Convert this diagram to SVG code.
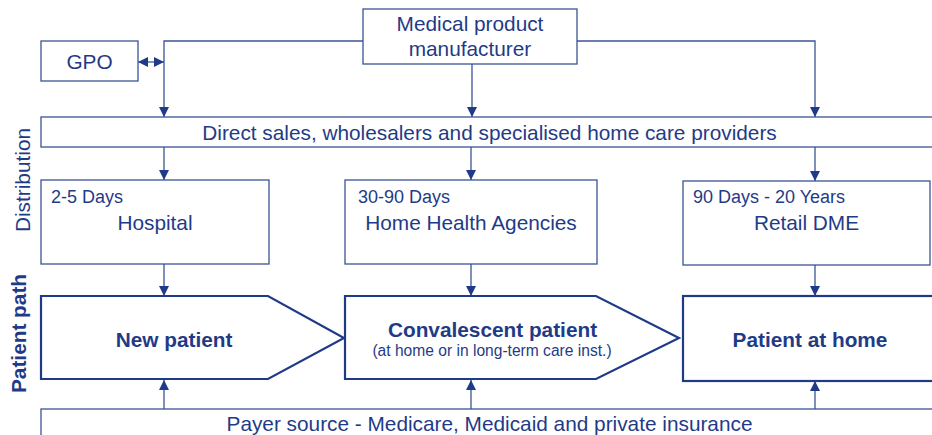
<svg xmlns="http://www.w3.org/2000/svg" width="932" height="435" viewBox="0 0 932 435">
<style>
text{font-family:"Liberation Sans",Arial,sans-serif;fill:#1f3b87}
.t{font-size:20.8px}
.s{font-size:18px}
.n{font-size:15.6px}
.b{font-size:20.8px;font-weight:bold}
.box{fill:#fff;stroke:#3a5596;stroke-width:1.3}
.pbox{fill:#fff;stroke:#1f3b87;stroke-width:2.2}
.c{fill:none;stroke:#3a5596;stroke-width:1.3}
</style>
<defs>
<marker id="ah" markerUnits="userSpaceOnUse" markerWidth="10" markerHeight="10" refX="10" refY="5" orient="auto-start-reverse" viewBox="0 0 10 10">
<path d="M0,0 L10,5 L0,10 z" fill="#1f3b87"/>
</marker>
</defs>
<rect width="932" height="435" fill="#fff"/>

<g id="labels">
<text class="t" transform="translate(30,180) rotate(-90)" text-anchor="middle">Distribution</text>
<text class="b" transform="translate(26,333.5) rotate(-90)" text-anchor="middle">Patient path</text>
</g>

<g id="connectors">
<polyline class="c" points="363,41 164,41 164,117" marker-end="url(#ah)"/>
<polyline class="c" points="577,41 815,41 815,117" marker-end="url(#ah)"/>
<line class="c" x1="472" y1="64" x2="472" y2="117" marker-end="url(#ah)"/>
<line class="c" x1="138" y1="62" x2="164" y2="62" marker-start="url(#ah)" marker-end="url(#ah)"/>
<line class="c" x1="164" y1="147" x2="164" y2="180" marker-end="url(#ah)"/>
<line class="c" x1="471" y1="147" x2="471" y2="180" marker-end="url(#ah)"/>
<line class="c" x1="815" y1="147" x2="815" y2="181" marker-end="url(#ah)"/>
<line class="c" x1="164" y1="264" x2="164" y2="296" marker-end="url(#ah)"/>
<line class="c" x1="471" y1="264" x2="471" y2="296" marker-end="url(#ah)"/>
<line class="c" x1="815" y1="265" x2="815" y2="296" marker-end="url(#ah)"/>
<line class="c" x1="164" y1="409" x2="164" y2="380" marker-end="url(#ah)"/>
<line class="c" x1="471" y1="409" x2="471" y2="380" marker-end="url(#ah)"/>
<line class="c" x1="815" y1="409" x2="815" y2="381" marker-end="url(#ah)"/>
</g>

<g id="gpo">
<rect class="box" x="41" y="41" width="97" height="40"/>
<text class="t" x="89.5" y="69" text-anchor="middle">GPO</text>
</g>

<g id="manufacturer">
<rect class="box" x="363" y="9" width="214" height="55"/>
<text class="t" x="470" y="31" text-anchor="middle">Medical product</text>
<text class="t" x="470" y="56" text-anchor="middle">manufacturer</text>
</g>

<g id="distribution">
<rect class="box" x="41" y="117" width="897" height="30"/>
<text class="t" x="489.5" y="140" text-anchor="middle">Direct sales, wholesalers and specialised home care providers</text>
</g>

<g id="hospital">
<rect class="box" x="41" y="180" width="228" height="84"/>
<text class="s" x="51" y="203">2-5 Days</text>
<text class="t" x="155" y="230" text-anchor="middle">Hospital</text>
</g>

<g id="home-health">
<rect class="box" x="345" y="180" width="252" height="84"/>
<text class="s" x="358" y="203">30-90 Days</text>
<text class="t" x="471" y="230" text-anchor="middle">Home Health Agencies</text>
</g>

<g id="retail-dme">
<rect class="box" x="683" y="181" width="247" height="84"/>
<text class="s" x="693" y="203">90 Days - 20 Years</text>
<text class="t" x="806.5" y="230" text-anchor="middle">Retail DME</text>
</g>

<g id="new-patient">
<polygon class="pbox" points="41,296 268,296 344,338 268,379 41,379"/>
<text class="b" x="174" y="347" text-anchor="middle">New patient</text>
</g>

<g id="convalescent">
<polygon class="pbox" points="345,296 596,296 679,338 596,379 345,379"/>
<text class="b" x="492.5" y="337" text-anchor="middle">Convalescent patient</text>
<text class="n" x="492" y="356" text-anchor="middle">(at home or in long-term care inst.)</text>
</g>

<g id="patient-home">
<rect class="pbox" x="683" y="296" width="254" height="85"/>
<text class="b" x="810" y="347" text-anchor="middle">Patient at home</text>
</g>

<g id="payer">
<rect class="box" x="41" y="409" width="897" height="40"/>
<text class="t" x="489.5" y="431" text-anchor="middle">Payer source - Medicare, Medicaid and private insurance</text>
</g>
</svg>
